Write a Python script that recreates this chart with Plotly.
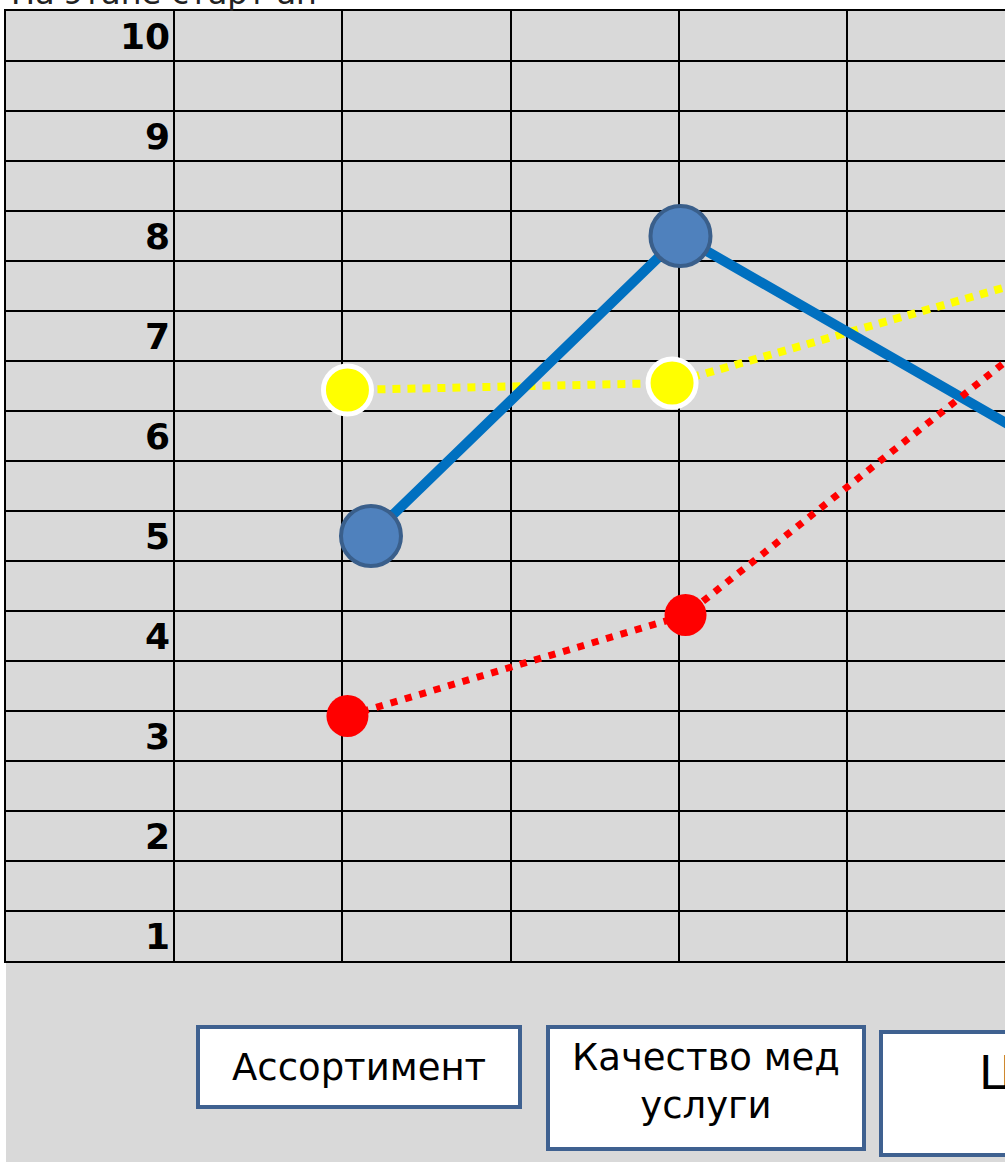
import plotly.graph_objects as go

# ---- data ----
title_text = "На этапе старт ап"
categories = ["Ассортимент", "Качество мед<br>услуги", "Цена"]
y_tick_values = [10, 9, 8, 7, 6, 5, 4, 3, 2, 1]
y_tick_labels = ["10", "9", "8", "7", "6", "5", "4", "3", "2", "1"]

blue_x = [2.17, 4.01, 6.08]
blue_y = [5.0, 8.0, 6.0]
yellow_x = [2.03, 3.96, 6.03]
yellow_y = [6.46, 6.53, 7.53]
red_x = [2.03, 4.04, 6.03]
red_y = [3.2, 4.21, 6.86]

grid_x = [0, 1, 2, 3, 4, 5]
grid_y = [0.75 + 0.5 * i for i in range(20)]

W, H = 1005, 1162
GRAY = "#d9d9d9"
BOX_EDGE = "#3f6190"


def px(x):
    return x / W


def py(y):
    return 1 - y / H


fig = go.Figure()

fig.add_trace(go.Scatter(
    x=yellow_x, y=yellow_y, mode="lines+markers", cliponaxis=False,
    line=dict(color="#ffff00", width=8, dash="8px,7px"),
    marker=dict(size=48, color="#ffff00", line=dict(color="white", width=5)),
    showlegend=False, hoverinfo="skip"))
fig.add_trace(go.Scatter(
    x=blue_x, y=blue_y, mode="lines+markers", cliponaxis=False,
    line=dict(color="#0070c0", width=10),
    marker=dict(size=60, color="#4f81bd", line=dict(color="#3a5f8b", width=4)),
    showlegend=False, hoverinfo="skip"))
fig.add_trace(go.Scatter(
    x=red_x, y=red_y, mode="lines+markers", cliponaxis=False,
    line=dict(color="#ff0000", width=7, dash="7px,8px"),
    marker=dict(size=42, color="#ff0000", line=dict(width=0)),
    showlegend=False, hoverinfo="skip"))

shapes = [dict(type="rect", xref="paper", yref="paper",
               x0=px(6), x1=1, y0=0, y1=py(11),
               fillcolor=GRAY, line=dict(width=0), layer="below")]

# category boxes
boxes = [(198, 520, 1027, 1107), (548, 864, 1027, 1149), (881, 1200, 1032, 1155)]
for (x0, x1, y0, y1) in boxes:
    shapes.append(dict(type="rect", xref="paper", yref="paper",
                       x0=px(x0), x1=px(x1), y0=py(y1), y1=py(y0),
                       fillcolor="white", line=dict(color=BOX_EDGE, width=4)))

annotations = []
for v, lab in zip(y_tick_values, y_tick_labels):
    annotations.append(dict(x=0.985, y=v, xref="x", yref="y", text=f"<b>{lab}</b>",
                            showarrow=False, xanchor="right", yanchor="middle",
                            font=dict(family="DejaVu Sans", size=36, color="black")))

cat_pos = [(359, 1067, 37), (706, 1081, 37), (977, 1073, 46)]
for (cx, cy, fs), cat in zip(cat_pos, categories):
    anchor = "left" if cat == categories[-1] else "center"
    annotations.append(dict(x=px(cx), y=py(cy), xref="paper", yref="paper", text=cat,
                            showarrow=False, xanchor=anchor, yanchor="middle",
                            font=dict(family="DejaVu Sans", size=fs, color="black")))

annotations.append(dict(x=px(9), y=py(-7), xref="paper", yref="paper", text=title_text,
                        showarrow=False, xanchor="left", yanchor="middle",
                        font=dict(family="DejaVu Sans", size=32, color="#222222")))

fig.update_layout(
    width=W, height=H,
    margin=dict(l=0, r=0, t=0, b=0),
    paper_bgcolor="white", plot_bgcolor=GRAY,
    shapes=shapes, annotations=annotations,
    xaxis=dict(domain=[px(6), 1], range=[0, (W - 6) / 168.2],
               tickvals=grid_x, showticklabels=False, ticks="",
               showgrid=True, gridcolor="black", gridwidth=2, zeroline=False,
               showline=True, linecolor="black", linewidth=2, mirror=True),
    yaxis=dict(domain=[py(961), py(11)], range=[0.75, 10.25],
               tickvals=grid_y, showticklabels=False, ticks="",
               showgrid=True, gridcolor="black", gridwidth=2, zeroline=False,
               showline=True, linecolor="black", linewidth=2),
)

fig.write_html("out.html", config={"displayModeBar": False},
               post_script="document.body.style.margin='0px';document.body.style.overflow='hidden';")
